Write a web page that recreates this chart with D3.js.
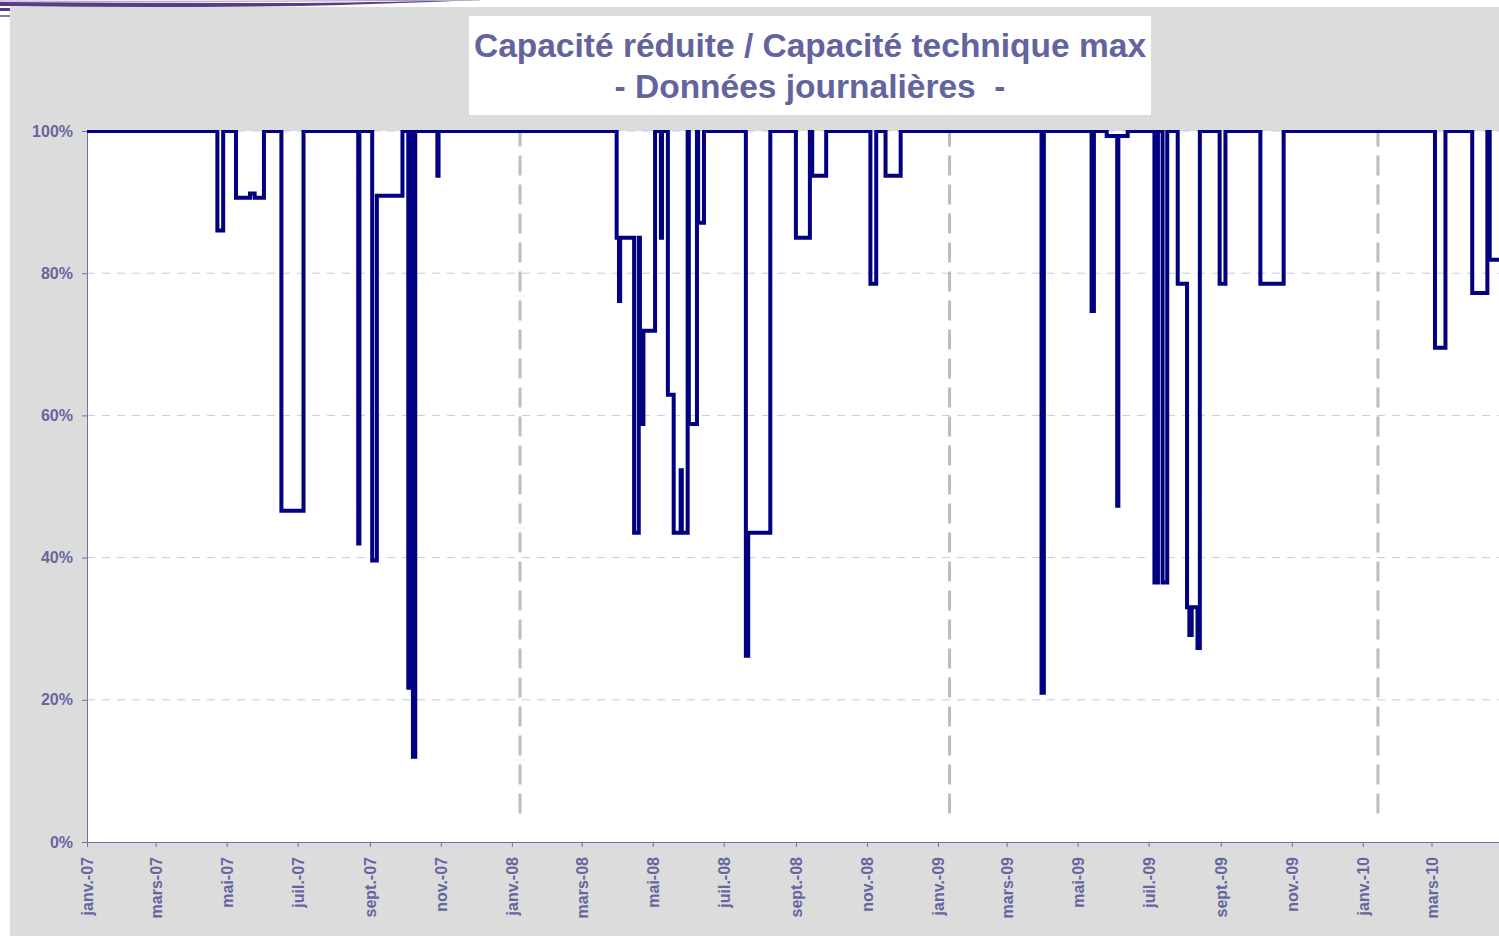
<!DOCTYPE html>
<html>
<head>
<meta charset="utf-8">
<script src="https://cdn.jsdelivr.net/npm/d3@7"></script>
<style>
  body { margin: 0; background: #fff; }
  svg { display: block; }
  text { font-family: "Liberation Sans", Arial, sans-serif; font-weight: bold; }
</style>
</head>
<body>
<div id="chart"></div>
<script>
// date from which each value holds (daily series, kept as change points)
var stepDates = [
  '2007-01-01','2007-04-23','2007-04-28','2007-05-09','2007-05-21','2007-05-25','2007-06-02',
  '2007-06-17','2007-07-06','2007-08-22','2007-08-23','2007-09-03','2007-09-07','2007-09-29',
  '2007-10-04','2007-10-06','2007-10-08','2007-10-10','2007-10-29','2007-10-30',
  '2008-03-31','2008-04-02','2008-04-03','2008-04-15','2008-04-19','2008-04-20','2008-04-23','2008-05-03',
  '2008-05-08','2008-05-09','2008-05-14','2008-05-19','2008-05-25','2008-05-26','2008-05-31','2008-06-01','2008-06-08','2008-06-09','2008-06-14',
  '2008-07-20','2008-07-22','2008-08-10',
  '2008-09-01','2008-09-13','2008-09-15','2008-09-27',
  '2008-11-04','2008-11-09','2008-11-17','2008-11-30',
  '2009-03-31','2009-04-02',
  '2009-05-13','2009-05-15',
  '2009-05-26','2009-06-04','2009-06-05','2009-06-13',
  '2009-07-06','2009-07-09','2009-07-13','2009-07-17',
  '2009-07-26','2009-08-03','2009-08-05','2009-08-07','2009-08-12','2009-08-14',
  '2009-08-31','2009-09-05',
  '2009-10-05','2009-10-25',
  '2010-03-04','2010-03-13',
  '2010-04-05','2010-04-18','2010-04-20','2010-04-28'
];
// capacité réduite / capacité technique max, in %
var capacity = [
  100, 86, 100, 90.6, 91.2, 90.6, 100,
  46.6, 100, 42, 100, 39.6, 90.9, 100,
  21.7, 100, 12, 100, 93.7, 100,
  85, 76.1, 85, 43.5, 85, 58.8, 71.9, 100,
  85, 100, 62.9, 43.5, 52.3, 43.5, 100, 58.8, 100, 87.1, 100,
  26.2, 43.5, 100,
  85, 100, 93.7, 100,
  78.5, 100, 93.7, 100,
  21, 100,
  74.7, 100,
  99.3, 47.3, 99.3, 100,
  36.5, 100, 36.5, 100,
  78.5, 33, 29.1, 33, 27.3, 100,
  78.5, 100,
  78.5, 100,
  69.5, 100,
  77.2, 100, 81.9, 81.9
];
var yTicks = [0, 0.2, 0.4, 0.6, 0.8, 1];
var frMonths = ['janv.','févr.','mars','avr.','mai','juin','juil.','août','sept.','oct.','nov.','déc.'];
// dashed separators drawn a few days after each new year
var separatorDates = ['2008-01-08','2009-01-11','2010-01-14'];
var xStart = '2007-01-01', xEnd = '2010-04-28';

var width = 1499,
    height = 936,
    plotLeft = 87, plotTop = 131, plotRight = 1499, plotBottom = 842;

var parse = d3.utcParse('%Y-%m-%d');
var data = stepDates.map(function(d, i) { return { date: parse(d), value: capacity[i] / 100 }; });

var svg = d3.select('#chart').append('svg').attr('width', width).attr('height', height);

// slide decoration at the very top
svg.append('path')
  .attr('d', 'M0,2 Q150,3 300,3 Q400,2 480,0 L480,0 Q380,4 300,6 Q150,8 0,6 Z')
  .attr('fill', '#5a3c84');
svg.append('path')
  .attr('d', 'M0,1 Q200,2 480,0')
  .attr('fill', 'none').attr('stroke', '#a898c0').attr('stroke-width', 1);
svg.append('rect').attr('x', 0).attr('y', 8).attr('width', 10).attr('height', 3).attr('fill', '#5a3c84');
svg.append('rect').attr('x', 0).attr('y', 15).attr('width', 10).attr('height', 2).attr('fill', '#8a76a8');

// grey panel and white plot area
svg.append('rect').attr('x', 10).attr('y', 7).attr('width', width - 10).attr('height', height - 7).attr('fill', '#dcdcdc');
svg.append('rect').attr('x', plotLeft).attr('y', plotTop).attr('width', plotRight - plotLeft).attr('height', plotBottom - plotTop).attr('fill', '#fff');

var xScale = d3.scaleUtc()
  .domain([parse(xStart), parse(xEnd)])
  .range([plotLeft, plotRight]);

var yScale = d3.scaleLinear()
  .domain([0, 1])
  .range([plotBottom, plotTop]);

// horizontal dashed grid
svg.append('g').selectAll('line')
  .data(yTicks.slice(1))
  .enter().append('line')
  .attr('x1', plotLeft).attr('x2', plotRight)
  .attr('y1', function(d) { return yScale(d); })
  .attr('y2', function(d) { return yScale(d); })
  .attr('stroke', '#c6c6f6')
  .attr('stroke-width', 1)
  .attr('stroke-dasharray', '8,7');

// year separators
svg.append('g').selectAll('line')
  .data(separatorDates)
  .enter().append('line')
  .attr('x1', function(d) { return xScale(parse(d)); })
  .attr('x2', function(d) { return xScale(parse(d)); })
  .attr('y1', yScale(0.04))
  .attr('y2', yScale(1))
  .attr('stroke', '#bdbdbd')
  .attr('stroke-width', 3)
  .attr('stroke-dasharray', '20,9');

var axisColor = '#7070b0',
    textColor = '#66669f';

var xAxis = d3.axisBottom(xScale)
  .tickValues(d3.utcMonth.every(2).range(parse(xStart), parse(xEnd)))
  .tickFormat(function(d) {
    return frMonths[d.getUTCMonth()] + '-' + d3.utcFormat('%y')(d);
  })
  .tickSize(5)
  .tickSizeOuter(0);

var yAxis = d3.axisLeft(yScale)
  .tickValues(yTicks)
  .tickFormat(d3.format('.0%'))
  .tickSize(5)
  .tickSizeOuter(0)
  .tickPadding(9);

var xAxisG = svg.append('g')
  .attr('id', 'xAxisG')
  .attr('transform', 'translate(0,' + plotBottom + ')')
  .call(xAxis);

xAxisG.selectAll('text')
  .attr('transform', 'rotate(-90)')
  .attr('x', -15)
  .attr('y', 0)
  .attr('dy', '0.35em')
  .style('text-anchor', 'end');

var yAxisG = svg.append('g')
  .attr('id', 'yAxisG')
  .attr('transform', 'translate(' + plotLeft + ',0)')
  .call(yAxis);

svg.selectAll('#xAxisG, #yAxisG')
  .attr('font-size', 16)
  .attr('font-family', null);
svg.selectAll('#xAxisG path, #xAxisG line, #yAxisG path, #yAxisG line')
  .attr('stroke', axisColor);
svg.selectAll('#xAxisG text, #yAxisG text')
  .attr('fill', textColor);

// the daily series
svg.append('clipPath').attr('id', 'plotClip')
  .append('rect').attr('x', plotLeft).attr('y', plotTop - 1).attr('width', plotRight - plotLeft).attr('height', plotBottom - plotTop + 1);

var capacityLine = d3.line()
  .x(function(d) { return xScale(d.date); })
  .y(function(d) { return yScale(d.value); })
  .curve(d3.curveStepAfter);

svg.append('path')
  .attr('d', capacityLine(data))
  .attr('clip-path', 'url(#plotClip)')
  .attr('fill', 'none')
  .attr('stroke', '#000080')
  .attr('stroke-width', 4);

// title box
svg.append('rect').attr('x', 469).attr('y', 16).attr('width', 682).attr('height', 99).attr('fill', '#fff');
svg.append('text')
  .attr('x', 810).attr('y', 57)
  .attr('text-anchor', 'middle')
  .attr('font-size', 33.5)
  .attr('fill', '#63639e')
  .text('Capacité réduite / Capacité technique max');
svg.append('text')
  .attr('x', 810).attr('y', 98)
  .attr('text-anchor', 'middle')
  .attr('font-size', 33.5)
  .attr('fill', '#63639e')
  .style('white-space', 'pre')
  .text('- Données journalières  -');
</script>
</body>
</html>
